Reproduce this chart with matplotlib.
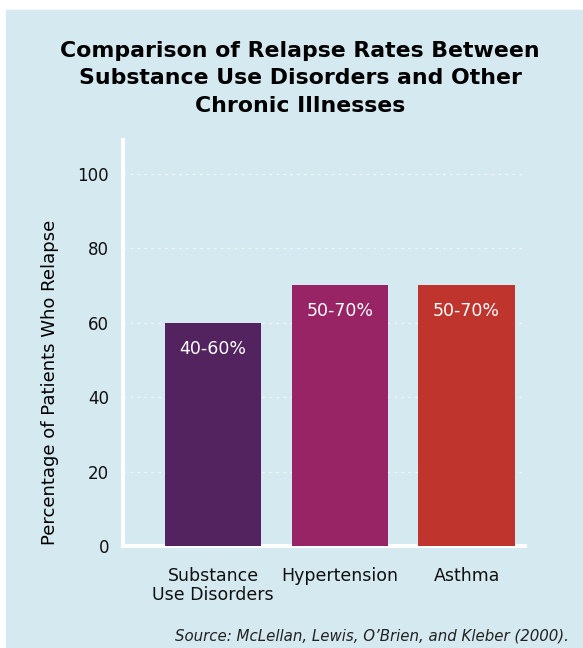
import matplotlib
matplotlib.use("Agg")
import matplotlib.pyplot as plt
from matplotlib.patches import Rectangle

# relapse rates (upper bound of each range) and their range labels
conditions = ["Substance\nUse Disorders", "Hypertension", "Asthma"]
upper_rate = [60, 70, 70]
range_labels = ["40-60%", "50-70%", "50-70%"]
bar_colors = ["#52235f", "#982466", "#bf352e"]
yticks = [0, 20, 40, 60, 80, 100]

bg = "#d5e9f0"
plt.rcParams["font.family"] = ["DejaVu Sans"]

fig = plt.figure(figsize=(5.83, 6.48), dpi=100, facecolor="white")
# light blue panel, leaving a thin white margin top and left
fig.patches.append(Rectangle((6 / 583, 0), 1, 1 - 10 / 648,
                             transform=fig.transFigure, color=bg, zorder=-10))

ax = fig.add_axes([123 / 583, (648 - 546) / 648, (525 - 123) / 583, (546 - 140) / 648])
ax.set_facecolor("none")

x = range(len(conditions))
bars = ax.bar(x, upper_rate, width=0.76, color=bar_colors, zorder=3)
for b, lab in zip(bars, range_labels):
    ax.text(b.get_x() + b.get_width() / 2, b.get_height() - 7, lab,
            ha="center", va="center", color="white", fontsize=12.5, zorder=4)

ax.set_xlim(-0.71, 2.46)
ax.set_ylim(0, 109)
ax.set_yticks(yticks)
ax.set_xticks(list(x))
ax.set_xticklabels(conditions, fontsize=12.5, linespacing=1.05)
ax.tick_params(axis="both", length=0, colors="#111111")
ax.tick_params(axis="y", pad=10, labelsize=12)
ax.tick_params(axis="x", pad=15)
ax.yaxis.grid(True, color="white", linestyle=(0, (2, 3)), linewidth=1, alpha=0.6)
ax.set_axisbelow(True)

for s in ["top", "right"]:
    ax.spines[s].set_visible(False)
for s in ["left", "bottom"]:
    ax.spines[s].set_color("white")
    ax.spines[s].set_linewidth(3)

ax.set_ylabel("Percentage of Patients Who Relapse", fontsize=13)
ax.yaxis.set_label_coords(-64 / 402, (546 - 382) / 406)

fig.text(0.515, 1 - 41 / 648,
         "Comparison of Relapse Rates Between\nSubstance Use Disorders and Other\nChronic Illnesses",
         ha="center", va="top", fontsize=15.8, fontweight="bold", linespacing=1.46,
         transform=fig.transFigure)
fig.text(569 / 583, 1 - 636 / 648,
         "Source: McLellan, Lewis, O\u2019Brien, and Kleber (2000).",
         ha="right", va="center", fontsize=10.8, style="italic", color="#222222")

fig.savefig("out.png", dpi=100, facecolor=fig.get_facecolor())
